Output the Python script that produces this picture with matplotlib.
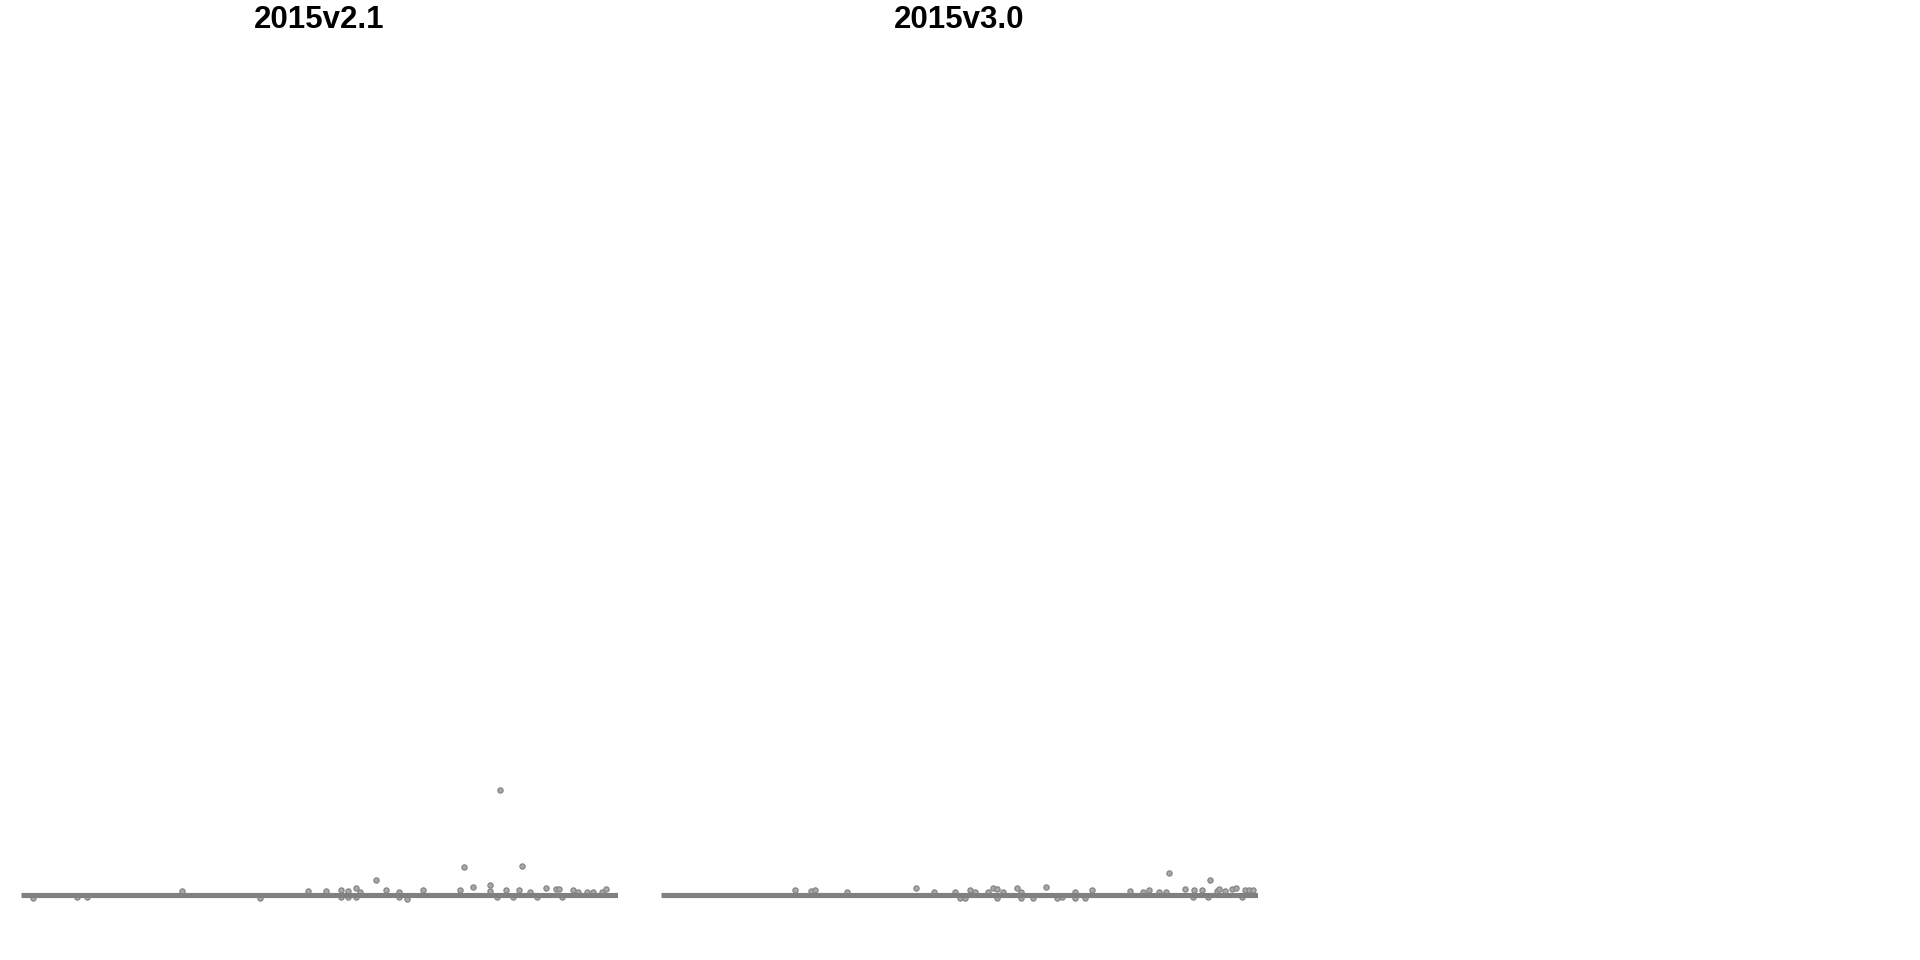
import matplotlib.pyplot as plt
import numpy as np

plt.rcParams['font.family'] = ['Liberation Sans', 'DejaVu Sans']

# panel titles
versions = ['2015v2.1', '2015v3.0']

# points per version: rank along x, difference along y
x_v21 = [12, 56, 66, 161, 239, 287, 305, 320, 320, 327, 327, 335, 335, 339,
         355, 365, 378, 378, 386, 402, 439, 443, 452, 469, 469, 476, 485,
         492, 498, 501, 509, 516, 525, 535, 538, 541, 552, 557, 566, 572,
         581, 585, 479]
y_v21 = [-3, -2, -2, 4, -3, 4, 4, 5, -2, 4, -2, 7, -2, 3,
         15, 5, 3, -2, -4, 5, 5, 28, 8, 10, 4, -2, 5,
         -2, 5, 29, 3, -2, 7, 6, 6, -2, 5, 3, 3, 3,
         3, 6, 105]

x_v30 = [134, 150, 154, 186, 255, 273, 294, 299, 304, 309, 314, 327, 332,
         336, 336, 342, 356, 360, 360, 372, 385, 396, 401, 414, 414, 424,
         431, 469, 482, 488, 498, 505, 508, 524, 532, 533, 541, 547, 549,
         556, 558, 564, 571, 575, 581, 584, 588, 592]
y_v30 = [5, 4, 5, 3, 7, 3, 3, -3, -3, 5, 3, 3, 7,
         6, -3, 3, 7, 3, -3, -3, 8, -3, -2, 3, -3, -3,
         5, 4, 3, 5, 3, 3, 22, 6, -2, 5, 5, -2, 15,
         4, 6, 4, 6, 7, -2, 5, 5, 5]

series = [(x_v21, y_v21), (x_v30, y_v30)]
x_range = (0, 597)
y_range = (-40, 855)

fig = plt.figure(figsize=(19.2, 9.6), dpi=100)

W, H = 1920, 960
lefts = [21, 661]
for i, (name, (xs, ys)) in enumerate(zip(versions, series)):
    ax = fig.add_axes([lefts[i] / W, 1 - 935 / H, 597 / W, 895 / H])
    ax.scatter(xs, ys, s=14, facecolor='#a8a8a8', edgecolor='#858585',
               linewidth=0.9, zorder=2, clip_on=False)
    ax.plot(x_range, [0, 0], color='#808080', lw=3.7,
            solid_capstyle='butt', zorder=3)
    ax.set_xlim(x_range)
    ax.set_ylim(y_range)
    ax.set_axis_off()
    ax.set_title(name, fontsize=22.5, fontweight='bold', pad=9)

fig.savefig('out.png', dpi=100, facecolor='white')
